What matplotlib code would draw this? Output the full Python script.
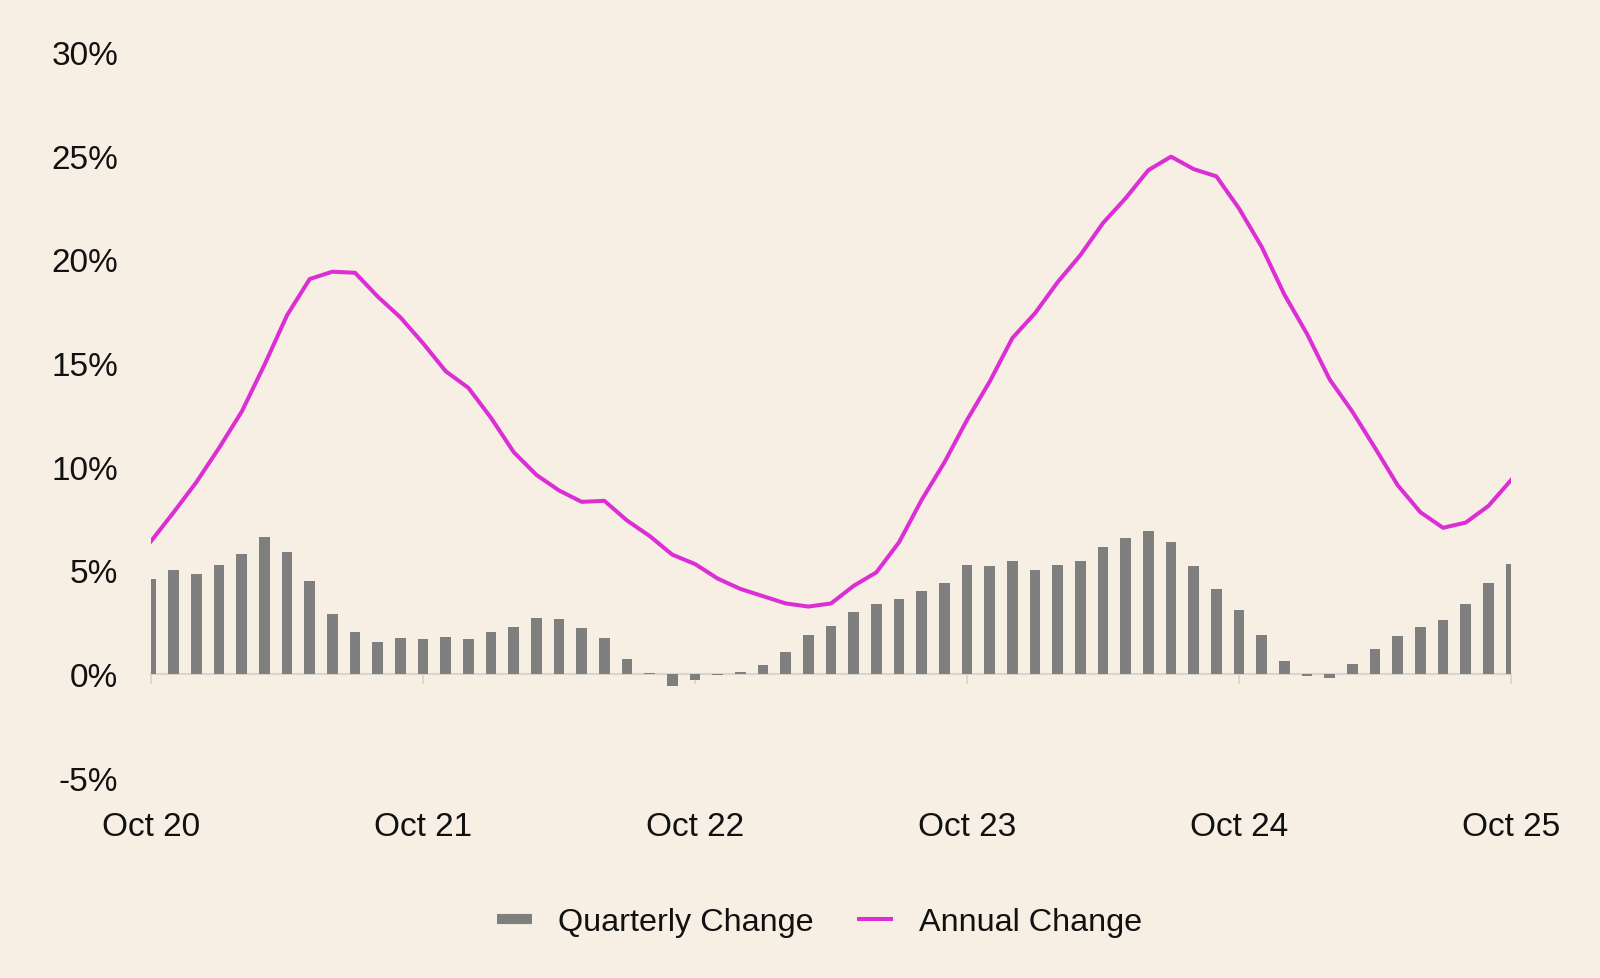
import matplotlib
matplotlib.use("Agg")
import matplotlib.pyplot as plt
from matplotlib.lines import Line2D
import numpy as np

plt.rcParams['font.family'] = ['Liberation Sans', 'DejaVu Sans']

# Monthly data, Oct 2020 .. Oct 2025 (61 months)
quarterly_change = [
    4.6, 5.0, 4.8, 5.25, 5.8, 6.6, 5.9, 4.5, 2.9, 2.0,
    1.55, 1.75, 1.7, 1.8, 1.7, 2.0, 2.25, 2.7, 2.65, 2.2,
    1.75, 0.7, 0.05, -0.6, -0.3, -0.05, 0.1, 0.45, 1.05, 1.9,
    2.3, 3.0, 3.35, 3.6, 4.0, 4.4, 5.25, 5.2, 5.45, 5.0,
    5.25, 5.45, 6.1, 6.55, 6.9, 6.35, 5.2, 4.1, 3.1, 1.9,
    0.6, -0.1, -0.2, 0.5, 1.2, 1.85, 2.25, 2.6, 3.35, 4.4,
    5.3,
]
annual_change = [
    6.4, 7.8, 9.25, 10.9, 12.65, 14.9, 17.3, 19.05, 19.4, 19.35,
    18.2, 17.2, 15.95, 14.6, 13.8, 12.35, 10.7, 9.6, 8.85, 8.3,
    8.35, 7.4, 6.65, 5.75, 5.3, 4.6, 4.1, 3.75, 3.4, 3.25,
    3.4, 4.25, 4.9, 6.35, 8.4, 10.2, 12.25, 14.1, 16.2, 17.4,
    18.9, 20.2, 21.75, 22.95, 24.3, 24.95, 24.35, 24.0, 22.45, 20.6,
    18.3, 16.4, 14.2, 12.65, 10.9, 9.1, 7.8, 7.05, 7.3, 8.1,
    9.35,
]
tick_positions = [0, 12, 24, 36, 48, 60]
tick_labels = ["Oct 20", "Oct 21", "Oct 22", "Oct 23", "Oct 24", "Oct 25"]
y_ticks = [-5, 0, 5, 10, 15, 20, 25, 30]

BG = '#F7EFE3'
BAR = '#7F7F7F'
LINE = '#DC2ED5'
AXIS = '#D9D4CC'

fig = plt.figure(figsize=(16, 9.79), dpi=100, facecolor=BG)
ax = fig.add_axes([0.0944, 0.2047, 0.85, 0.7412])
ax.set_facecolor(BG)

x = np.arange(len(quarterly_change))
ax.bar(x, quarterly_change, width=0.48, color=BAR, zorder=2)
ax.plot(x, annual_change, color=LINE, lw=2.9, zorder=3)

ax.set_xlim(0, 60)
ax.set_ylim(-5, 30)
ax.set_yticks(y_ticks)
ax.set_yticklabels([f"{v}%" for v in y_ticks])
ax.set_xticks(tick_positions)
ax.set_xticklabels(tick_labels)

for s in ['top', 'right', 'left']:
    ax.spines[s].set_visible(False)
ax.spines['bottom'].set_position(('data', 0))
ax.spines['bottom'].set_color(AXIS)
ax.spines['bottom'].set_linewidth(1.5)
ax.spines['bottom'].set_zorder(1)

ax.tick_params(axis='y', length=0, pad=23.5, labelsize=24, labelcolor='#111111')
ax.tick_params(axis='x', length=7, width=1.2, color=AXIS, direction='out',
               pad=91.5, labelsize=24, labelcolor='#111111')

handles = [
    Line2D([], [], color=BAR, lw=7.3, solid_capstyle='butt'),
    Line2D([], [], color=LINE, lw=2.9, solid_capstyle='butt'),
]
fig.legend(handles, ["Quarterly Change", "Annual Change"], loc='center',
           bbox_to_anchor=(0.512, 0.057), ncol=2, frameon=False, fontsize=23.3,
           handlelength=1.1, handletextpad=0.79, columnspacing=1.36,
           labelcolor='#111111')

fig.savefig('out.png', dpi=100, facecolor=BG)
